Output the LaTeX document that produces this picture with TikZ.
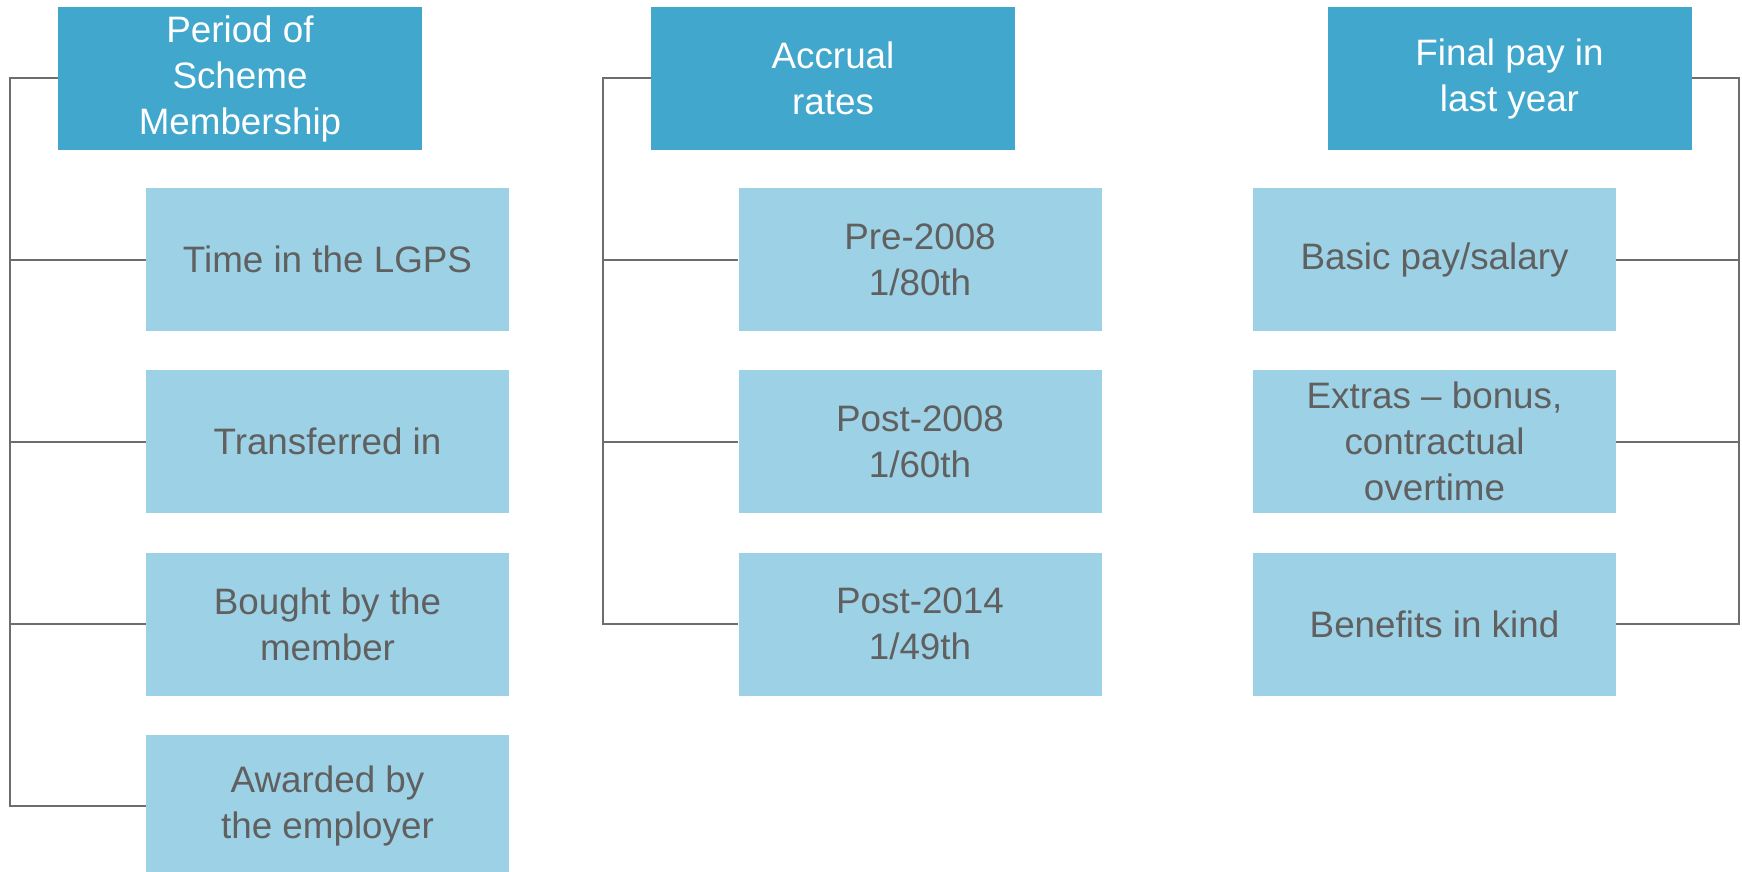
\documentclass[tikz,border=0pt]{standalone}
\usepackage{fontspec}
\setmainfont{Liberation Sans}
\usepackage{tikz}
\usetikzlibrary{positioning}
\definecolor{hdblue}{HTML}{41A7CD}
\definecolor{boxblue}{HTML}{9DD2E6}
\definecolor{txtgrey}{HTML}{606060}
\definecolor{railgrey}{HTML}{6D6D6D}

\begin{document}
\begin{tikzpicture}[x=0.5pt,y=-0.5pt,node distance=19.25pt,
  head/.style={fill=hdblue,text=white,minimum width=182pt,minimum height=71.5pt,inner sep=0pt,align=center,font=\fontsize{18.4}{23}\selectfont},
  item/.style={fill=boxblue,text=txtgrey,minimum width=181.5pt,minimum height=71.5pt,inner sep=0pt,align=center,font=\fontsize{18.4}{23}\selectfont},
  link/.style={railgrey,line width=1pt}]
  \useasboundingbox (0,0) rectangle (1742,872);
  % headers
  \node[head](period)at(240,78.5){Period of\\Scheme\\Membership};
  \node[head](accrual)at(833,78.5){Accrual\\rates};
  \node[head](finalpay)at(1509.5,78.5){Final pay in\\last year};
  % period of membership
  \node[item](lgps)at(327.5,259.5){Time in the LGPS};
  \node[item,below=of lgps](transin){Transferred in};
  \node[item,below=of transin](bought){Bought by the\\member};
  \node[item,below=of bought](awarded){Awarded by\\the employer};
  % accrual rates
  \node[item](pre08)at(920,259.5){Pre-2008\\1/80th};
  \node[item,below=of pre08](post08){Post-2008\\1/60th};
  \node[item,below=of post08](post14){Post-2014\\1/49th};
  % final pay
  \node[item](basic)at(1434.5,259.5){Basic pay/salary};
  \node[item,below=of basic](extras){Extras -- bonus,\\contractual\\overtime};
  \node[item,below=of extras](bik){Benefits in kind};
  % rails
  \coordinate(railA)at(10,0);
  \coordinate(railB)at(603,0);
  \coordinate(railC)at(1739,0);
  \draw[link](period.west)--(period.west-|railA)--(awarded.west-|railA)--(awarded.west);
  \foreach \n in {lgps,transin,bought}{\draw[link](\n.west-|railA)--(\n.west);}
  \draw[link](accrual.west)--(accrual.west-|railB)--(post14.west-|railB)--(post14.west);
  \foreach \n in {pre08,post08}{\draw[link](\n.west-|railB)--(\n.west);}
  \draw[link](finalpay.east)--(finalpay.east-|railC)--(bik.east-|railC)--(bik.east);
  \foreach \n in {basic,extras}{\draw[link](\n.east-|railC)--(\n.east);}
\end{tikzpicture}
\end{document}
